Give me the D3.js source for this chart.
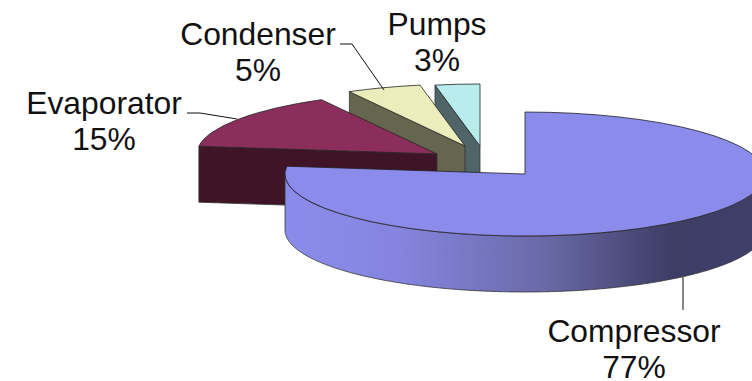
<!DOCTYPE html>
<html>
<head>
<meta charset="utf-8">
<style>
html,body{margin:0;padding:0;background:#fff;overflow:hidden}
svg{display:block}
text{font-family:"Liberation Sans",Arial,sans-serif;font-size:31.8px;fill:#111;text-anchor:middle}
</style>
<script src="https://cdn.jsdelivr.net/npm/d3@7/dist/d3.min.js"></script>
</head>
<body>
<svg id="chart" width="752" height="381"></svg>
<script>
// Share of energy use by component
const categories = ["Compressor", "Evaporator", "Condenser", "Pumps"];
const shares = [77, 15, 5, 3];

// Presentation of each slice
const topColors = ["#8b8bec", "#8b2e5c", "#ecedbc", "#b9eded"];
const wallColors = ["url(#wallShade)", "#3f1427", "#66664e", "#4f6568"];
const apexes = [[525, 174], [437, 154], [465, 146], [480, 146]];
const labelAt = [[634, 342], [104, 114], [258, 45], [437, 35]];
const leaders = [
  [[683, 277], [683, 310]],
  [[187, 113], [200, 113], [237, 119]],
  [[340, 44], [352, 44], [384, 90]],
  []
];

const rx = 240, ry = 62, depth = 56;
const svg = d3.select("#chart");

const defs = svg.append("defs");
const grad = defs.append("linearGradient").attr("id", "wallShade")
  .attr("gradientUnits", "userSpaceOnUse")
  .attr("x1", 285).attr("x2", 752).attr("y1", 0).attr("y2", 0);
[[0, "#8b8bec"], [0.24, "#8585e0"], [0.55, "#6a6aa8"], [0.83, "#3d3d66"], [1, "#3f3f6a"]]
  .forEach(([o, c]) => grad.append("stop").attr("offset", o).attr("stop-color", c));

const slices = d3.pie().sort(null).value(d => d).startAngle(0).endAngle(2 * Math.PI)(shares);

const rim = (ax, ay) => a => [ax + rx * Math.sin(a), ay - ry * Math.cos(a)];
const line = d3.line();
const wedge = d3.arc().innerRadius(0).outerRadius(rx);

// Back slices first, so nearer ones cover them
d3.range(slices.length - 1, -1, -1).forEach(i => {
  const s = slices[i], [ax, ay] = apexes[i], at = rim(ax, ay);
  const g = svg.append("g");

  if (i === 0) {
    // Curved front wall, from the right side round to the left
    const from = Math.PI / 2, to = Math.min(s.endAngle, 1.5 * Math.PI);
    const upper = d3.range(from, to, 0.01).concat(to).map(at);
    const lower = upper.slice().reverse().map(([x, y]) => [x, y + depth]);
    g.append("path").attr("d", line(upper.concat(lower)) + "Z")
      .attr("fill", wallColors[i]).attr("stroke", "#333").attr("stroke-width", 0.8);
  } else {
    // Flat cut face on the leading edge of an exploded slice
    const p = at(s.startAngle);
    g.append("path")
      .attr("d", line([p, [ax, ay], [ax, ay + depth], [p[0], p[1] + depth]]) + "Z")
      .attr("fill", wallColors[i]).attr("stroke", "#333").attr("stroke-width", 0.8);
  }

  g.append("path")
    .attr("d", wedge({startAngle: s.startAngle, endAngle: s.endAngle}))
    .attr("transform", `translate(${ax},${ay}) scale(1,${ry / rx})`)
    .attr("fill", topColors[i])
    .attr("stroke", "#222").attr("stroke-width", 0.8)
    .attr("vector-effect", "non-scaling-stroke");
});

// Leader lines
leaders.filter(l => l.length).forEach(l => {
  svg.append("path").attr("d", line(l)).attr("fill", "none")
    .attr("stroke", "#111").attr("stroke-width", 1);
});

// Two-line labels: name, then rounded share
categories.forEach((name, i) => {
  const [x, y] = labelAt[i];
  svg.append("text").attr("x", x).attr("y", y).text(name);
  svg.append("text").attr("x", x).attr("y", y + 36).text(shares[i] + "%");
});
</script>
</body>
</html>
